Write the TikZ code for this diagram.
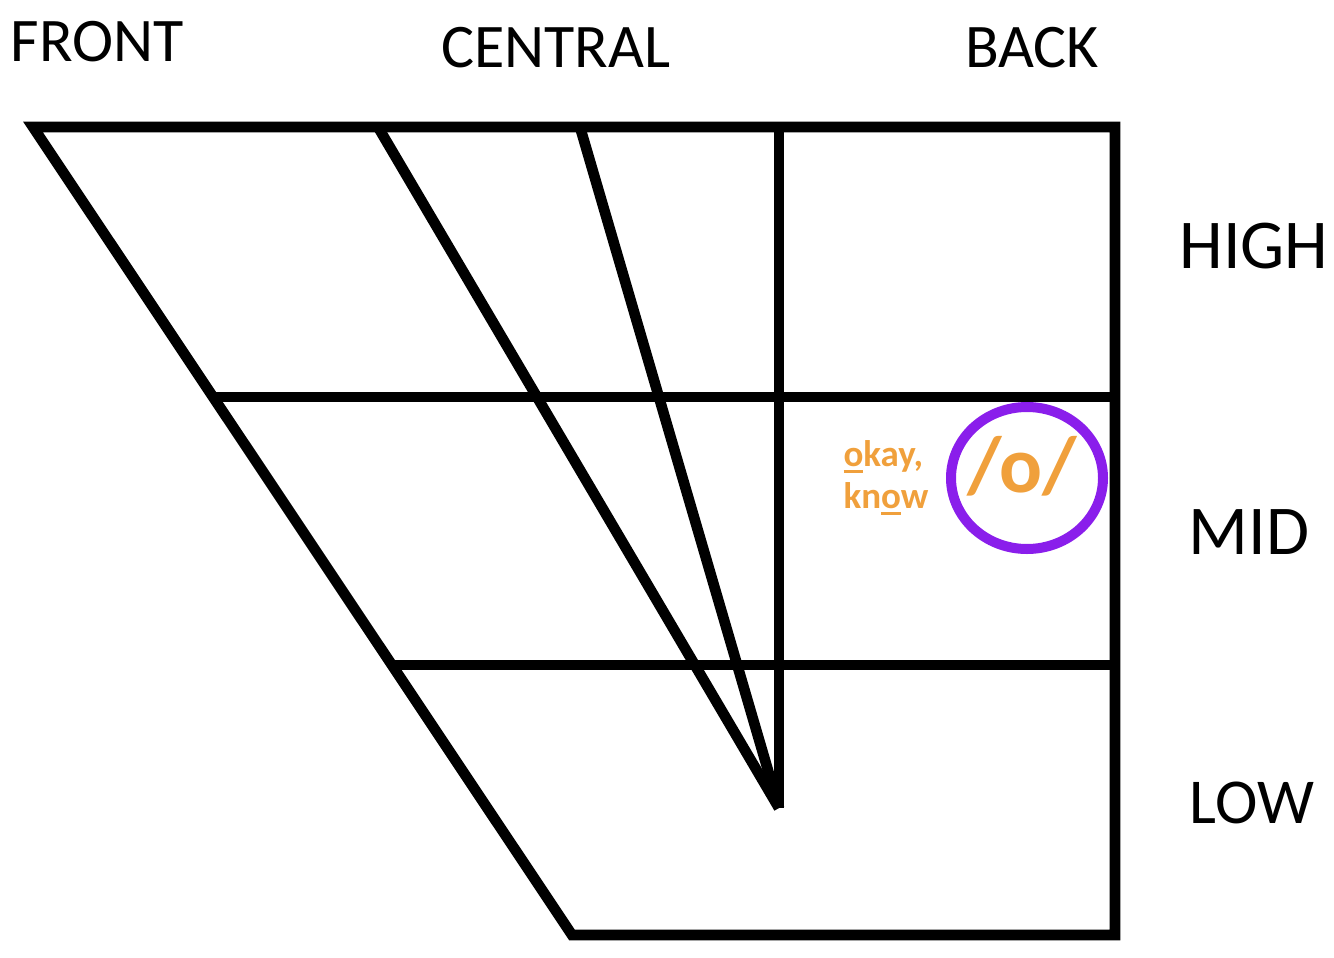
\documentclass[tikz,border=0pt]{standalone}
\usepackage{fontspec}
\setmainfont{Carlito}
\usetikzlibrary{shapes.geometric}
\definecolor{vpurple}{HTML}{8A1EEB}
\definecolor{vorange}{HTML}{F0A03C}
\newcommand\myul[1]{\setbox0\hbox{#1}\rlap{\rule[-3pt]{\wd0}{1.6pt}}#1}
\tikzset{
  grid/.style={line width=5.3pt, line join=miter, line cap=butt},
  axislabel/.style={font=\fontsize{31}{31}\selectfont, inner sep=0pt, anchor=center},
  sidelabel/.style={font=\fontsize{35}{35}\selectfont, inner sep=0pt, anchor=center},
}
\begin{document}
\begin{tikzpicture}[x=0.5pt,y=-0.5pt]
\useasboundingbox (0,0) rectangle (1334,958);
% key points
\coordinate (TL) at (33,127);
\coordinate (TR) at (1115,127);
\coordinate (BR) at (1115,935);
\coordinate (BL) at (572,935);
\coordinate (ML) at (215,397);
\coordinate (MR) at (1115,397);
\coordinate (LL) at (393,665);
\coordinate (LR) at (1115,665);
\coordinate (C2) at (378,127);
\coordinate (C3) at (580,127);
\coordinate (V) at (779,127);
\coordinate (P) at (779,808);
% outline
\draw[grid] (TL) -- (TR) -- (BR) -- (BL) -- cycle;
\draw[grid] (ML) -- (MR);
\draw[grid] (LL) -- (LR);
\draw[grid] (V) -- (P);
\draw[grid] (C2) -- (P);
\draw[grid] (C3) -- (P);
% labels
\node[axislabel] (front) at (97,42) {FRONT};
\node[axislabel] (central) at (556,48) {CENTRAL};
\node[axislabel] (back) at (1032,48) {BACK};
\node[sidelabel] (high) at (1254,246) {HIGH};
\node[sidelabel] (mid) at (1249,532) {MID};
\node[sidelabel,font=\fontsize{32}{32}\selectfont] (low) at (1252,803) {LOW};
% vowel
\node[draw=vpurple, line width=5pt, ellipse, inner sep=0pt, minimum width=76pt, minimum height=71pt] (circ) at (1027,478) {};
\node[text=vorange, font=\bfseries\fontsize{40}{40}\selectfont, inner sep=0pt] (vowel) at (1022,466) {/o/};
\node[text=vorange, font=\bfseries\fontsize{18.5}{21}\selectfont, align=left, inner sep=0pt, anchor=center] (ex) at (886,478) {\myul{o}kay,\\ kn\myul{o}w};
\end{tikzpicture}
\end{document}
